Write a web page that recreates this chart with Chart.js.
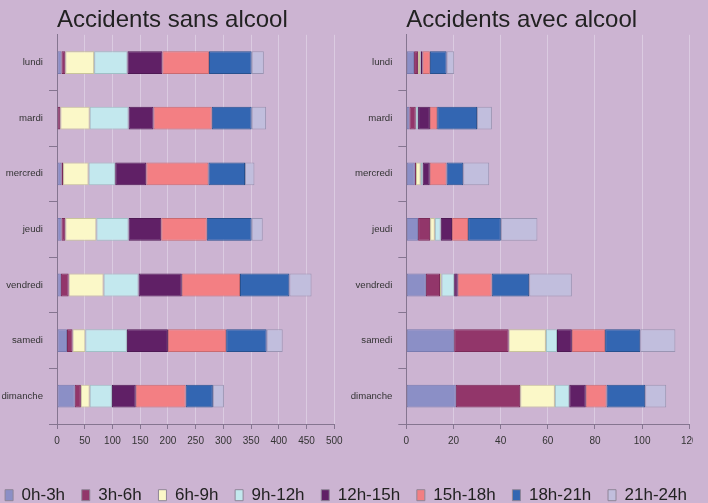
<!DOCTYPE html>
<html><head><meta charset="utf-8">
<script src="https://cdn.jsdelivr.net/npm/chart.js@4/dist/chart.umd.min.js"></script>
<style>
html,body{margin:0;padding:0;background:#ccb4d2;}
#wrap{position:relative;width:708px;height:503px;overflow:hidden;background:#ccb4d2;}
canvas{position:absolute;}
</style></head>
<body><div id="wrap">
<canvas id="c1" width="352" height="460" style="left:0;top:0;width:352px;height:460px"></canvas>
<canvas id="c2" width="343" height="460" style="left:350px;top:0;width:343px;height:460px"></canvas>
<canvas id="c3" width="760" height="100" style="left:-34px;top:470px;width:760px;height:100px"></canvas>
</div>
<script>
// ---- data ----
const days = ['lundi','mardi','mercredi','jeudi','vendredi','samedi','dimanche'];
const slots = ['0h-3h','3h-6h','6h-9h','9h-12h','12h-15h','15h-18h','18h-21h','21h-24h'];
const titleSans = 'Accidents sans alcool';
const titleAvec = 'Accidents avec alcool';

// Accidents sans alcool (lundi..dimanche)
const sans0h3h   = [8, 1, 8, 8, 7, 18, 32];
const sans3h6h   = [7, 5, 3, 7, 14, 10, 11];
const sans6h9h   = [52, 53, 46, 56, 63, 23, 16];
const sans9h12h  = [60, 70, 48, 58, 63, 75, 40];
const sans12h15h = [63, 45, 56, 59, 78, 74, 43];
const sans15h18h = [84, 105, 112, 82, 105, 105, 90];
const sans18h21h = [77, 72, 66, 81, 89, 73, 49];
const sans21h24h = [22, 26, 17, 20, 40, 29, 20];

// Accidents avec alcool (lundi..dimanche)
const avec0h3h   = [3.3, 1.3, 3.6, 5.0, 8.3, 20.3, 21.0];
const avec3h6h   = [1.7, 2.7, 0.5, 5.1, 6.0, 23.1, 27.3];
const avec6h9h   = [0.8, 0, 2.0, 2.0, 0.6, 15.8, 14.7];
const avec9h12h  = [0.3, 1.0, 0.85, 2.5, 5.4, 4.7, 6.1];
const avec12h15h = [0.8, 5.0, 3.0, 4.8, 1.5, 6.3, 7.0];
const avec15h18h = [3.1, 3.1, 7.1, 6.8, 14.4, 14.1, 8.8];
const avec18h21h = [7.1, 16.9, 7.1, 13.9, 15.9, 14.9, 16.4];
const avec21h24h = [3.2, 6.3, 11.0, 15.5, 18.1, 14.9, 8.9];

const sansTicksMax = 500, sansStep = 50;
const avecTicksMax = 120, avecStep = 20;

// ---- styles ----
const fills   = ['#8b8fc6','#92366a','#fbf8c8','#c3e8ee','#602066','#f37f83','#3366b2','#c1bedd'];
const borders = ['#787bb0','#7a2a58','#c9c59a','#9fc0c6','#4e1954','#c96a70','#27508e','#9a95b3'];
const axisCol = '#857590';
const gridCol = 'rgba(232,222,236,0.55)';
const FONT = '"Liberation Sans", Arial, sans-serif';

const sansSeries = [sans0h3h,sans3h6h,sans6h9h,sans9h12h,sans12h15h,sans15h18h,sans18h21h,sans21h24h];
const avecSeries = [avec0h3h,avec3h6h,avec6h9h,avec9h12h,avec12h15h,avec15h18h,avec18h21h,avec21h24h];

function datasets(series){
  return series.map((d,i)=>({
    label: slots[i], data: d,
    backgroundColor: fills[i], borderColor: borders[i], borderWidth: 1,
    borderSkipped: false,
    barPercentage: 0.41, categoryPercentage: 1
  }));
}

function opts(title, max, step, yWidth, padRight){
  return {
    responsive: false, animation: false, indexAxis: 'y',
    layout: {padding: {left: 0, right: padRight, top: 0, bottom: 0}},
    plugins: {
      legend: {display: false},
      tooltip: {enabled: false},
      title: {display: true, text: title, align: 'start', fullSize: false,
        color: '#222', font: {family: FONT, size: 24, weight: 'normal'},
        padding: {top: 6, bottom: 0}}
    },
    scales: {
      x: {
        stacked: true, min: 0, max: max,
        ticks: {stepSize: step, color: '#333', font: {family: FONT, size: 10}, padding: 6, maxRotation: 0},
        grid: {color: gridCol, tickColor: axisCol, tickLength: 5, drawTicks: true},
        border: {display: true, color: axisCol, width: 1},
        afterFit: s => { s.height = 36; s.paddingLeft = 0; s.paddingRight = 0; }
      },
      y: {
        stacked: true,
        ticks: {color: '#333', font: {family: FONT, size: 9.6}, padding: 6},
        grid: {offset: true, drawOnChartArea: false, tickLength: 8,
          tickColor: c => (c.index === 0 ? 'rgba(0,0,0,0)' : axisCol), color: axisCol},
        border: {display: true, color: axisCol, width: 1},
        afterFit: s => { s.width = yWidth; }
      }
    }
  };
}

new Chart(document.getElementById('c1'), {
  type: 'bar',
  data: {labels: days, datasets: datasets(sansSeries)},
  options: opts(titleSans, sansTicksMax, sansStep, 57, 17.7)
});
new Chart(document.getElementById('c2'), {
  type: 'bar',
  data: {labels: days, datasets: datasets(avecSeries)},
  options: opts(titleAvec, avecTicksMax, avecStep, 56.3, 3.7)
});
new Chart(document.getElementById('c3'), {
  type: 'bar',
  data: {labels: [], datasets: slots.map((s,i)=>({label: s, data: [], backgroundColor: fills[i], borderColor: '#8f8598', borderWidth: 1}))},
  options: {
    responsive: false, animation: false,
    layout: {padding: 0},
    plugins: {
      tooltip: {enabled: false},
      legend: {display: true, position: 'top',
        labels: {boxWidth: 8, boxHeight: 11, padding: 16.7, color: '#222',
          font: {family: FONT, size: 17}}}
    },
    scales: {x: {display: false}, y: {display: false}}
  }
});
</script>
</body></html>
